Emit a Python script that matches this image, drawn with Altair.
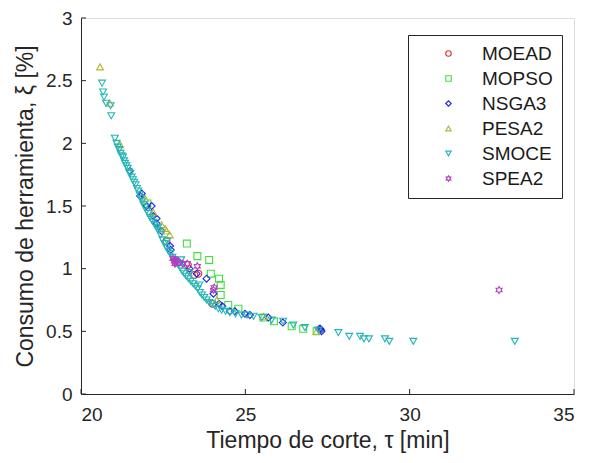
import altair as alt
import pandas as pd

# ---------------- data ----------------
moead_x = [22.60, 22.92, 23.25, 23.45, 23.57, 24.00]
moead_y = [1.22, 1.05, 1.03, 0.95, 0.96, 0.72]

mopso_x = [22.02, 23.22, 23.54, 23.90, 23.95, 24.20, 24.25, 24.25, 24.48, 24.79,
           25.55, 25.87, 26.41, 26.76, 27.17]
mopso_y = [1.52, 1.20, 1.10, 1.07, 0.96, 0.92, 0.87, 0.79, 0.71, 0.68,
           0.61, 0.58, 0.54, 0.52, 0.50]

nsga3_x = [21.49, 21.80, 21.85, 22.00, 22.15, 22.20, 22.30, 22.30, 22.45, 22.71,
           22.73, 23.00, 23.30, 23.52, 23.82, 24.03, 24.20, 24.30, 24.53, 24.68,
           24.99, 25.14, 25.70, 26.14, 27.25, 27.28, 27.30, 27.32]
nsga3_y = [1.78, 1.58, 1.60, 1.50, 1.50, 1.42, 1.40, 1.36, 1.30, 1.18,
           1.15, 1.05, 1.00, 0.96, 0.92, 0.80, 0.72, 0.70, 0.66, 0.66,
           0.64, 0.63, 0.61, 0.57, 0.52, 0.52, 0.51, 0.50]

pesa2_x = [20.58, 20.88, 21.19, 21.95, 22.20, 22.45, 22.56, 22.60, 22.70, 24.13,
           25.55, 27.17]
pesa2_y = [2.61, 2.32, 1.99, 1.56, 1.45, 1.35, 1.32, 1.30, 1.27, 0.75,
           0.62, 0.50]

smoce_x = [20.64, 20.67, 20.70, 20.76, 20.90, 20.92,
           21.03, 21.08, 21.12, 21.16, 21.20, 21.24, 21.28, 21.31, 21.34, 21.38,
           21.42, 21.46, 21.50, 21.54, 21.58, 21.62, 21.66, 21.70, 21.74, 21.78,
           21.82, 21.86, 21.90, 21.95, 22.00, 22.05, 22.10, 22.15, 22.20, 22.25,
           22.30, 22.36, 22.42, 22.48, 22.54, 22.60, 22.66, 22.72, 22.78, 22.84,
           22.90, 22.96, 23.02, 23.08, 23.14, 23.20, 23.27, 23.34, 23.41, 23.48,
           23.55, 23.62, 23.68, 23.75, 23.82, 23.90, 23.98, 24.08, 24.18, 24.28,
           24.40, 24.53, 24.70, 24.88, 25.05, 25.25, 25.50, 25.80, 26.15, 26.46,
           26.81, 27.22, 27.83, 28.16, 28.49, 28.61, 28.76, 29.25, 29.38, 30.11,
           33.20, 22.35, 22.62, 23.05, 23.30, 23.60]
smoce_y = [2.48, 2.41, 2.37, 2.32, 2.30, 2.22,
           2.04, 2.00, 1.97, 1.95, 1.92, 1.90, 1.89, 1.86, 1.84, 1.82,
           1.80, 1.77, 1.76, 1.73, 1.71, 1.69, 1.67, 1.64, 1.62, 1.59,
           1.56, 1.54, 1.51, 1.49, 1.46, 1.44, 1.41, 1.39, 1.37, 1.35,
           1.33, 1.30, 1.27, 1.23, 1.20, 1.17, 1.14, 1.12, 1.09, 1.07,
           1.05, 1.03, 1.01, 0.98, 0.96, 0.94, 0.92, 0.90, 0.88, 0.86,
           0.84, 0.81, 0.79, 0.77, 0.75, 0.73, 0.72, 0.70, 0.68, 0.67,
           0.66, 0.65, 0.64, 0.63, 0.63, 0.62, 0.61, 0.59, 0.58, 0.55,
           0.53, 0.51, 0.49, 0.46, 0.46, 0.44, 0.44, 0.44, 0.42, 0.42,
           0.42, 1.33, 1.22, 1.07, 0.97, 0.87]

spea2_x = [22.80, 22.84, 22.88, 22.86, 22.90, 23.10, 23.23, 23.54, 24.03, 24.05, 32.72]
spea2_y = [1.08, 1.06, 1.07, 1.04, 1.06, 1.04, 1.04, 1.02, 0.83, 0.85, 0.83]

series_names = ["MOEAD", "MOPSO", "NSGA3", "PESA2", "SMOCE", "SPEA2"]
series_x = [moead_x, mopso_x, nsga3_x, pesa2_x, smoce_x, spea2_x]
series_y = [moead_y, mopso_y, nsga3_y, pesa2_y, smoce_y, spea2_y]

x_ticks = [20, 25, 30, 35]
y_ticks = [0, 0.5, 1, 1.5, 2, 2.5, 3]

# ---------------- build table ----------------
rows = []
for name, xs, ys in zip(series_names, series_x, series_y):
    for a, b in zip(xs, ys):
        rows.append({"alg": name, "tau": a, "xi": b, "order": len(rows)})
df = pd.DataFrame(rows)

hexagram = ("M0,-1L0.289,-0.5L0.866,-0.5L0.577,0L0.866,0.5L0.289,0.5L0,1"
            "L-0.289,0.5L-0.866,0.5L-0.577,0L-0.866,-0.5L-0.289,-0.5Z")

colors = ["#e0302f", "#3ee03e", "#2424e0", "#b5b535", "#25b5b5", "#b53cc0"]
shapes = ["circle", "square", "diamond", "triangle-up", "triangle-down", hexagram]

W, H = 493, 376
FONT = "Liberation Sans"
AX = "#262626"

xscale = alt.Scale(domain=[20, 35], nice=False, zero=False)
yscale = alt.Scale(domain=[0, 3], nice=False, zero=False)

points = alt.Chart(df).mark_point(filled=False, strokeWidth=1.1, size=48, opacity=1).encode(
    x=alt.X("tau:Q", scale=xscale,
            axis=alt.Axis(values=x_ticks, format="~g", title="Tiempo de corte, τ [min]", grid=False,
                          ticks=False, tickSize=0, labelPadding=11, titlePadding=5,
                          domainColor=AX, labelColor=AX, titleColor=AX,
                          labelFont=FONT, titleFont=FONT, labelFontSize=19,
                          titleFontSize=23, titleFontWeight="normal")),
    y=alt.Y("xi:Q", scale=yscale,
            axis=alt.Axis(values=y_ticks, format="~g", title="Consumo de herramienta, ξ [%]", grid=False,
                          ticks=False, tickSize=0, labelPadding=9, titlePadding=8,
                          domainColor=AX, labelColor=AX, titleColor=AX,
                          labelFont=FONT, titleFont=FONT, labelFontSize=19,
                          titleFontSize=23, titleFontWeight="normal")),
    color=alt.Color("alg:N", scale=alt.Scale(domain=series_names, range=colors),
                    legend=alt.Legend(title=None, orient="none", legendX=327, legendY=17,
                                      strokeColor=AX, fillColor="white", padding=9,
                                      labelFont=FONT, labelFontSize=19, labelColor="#1a1a1a",
                                      symbolSize=30, symbolStrokeWidth=1.1,
                                      rowPadding=5, symbolOffset=22, labelOffset=24,
                                      labelLimit=200, cornerRadius=0)),
    shape=alt.Shape("alg:N", scale=alt.Scale(domain=series_names, range=shapes), legend=None),
    order=alt.Order("order:Q"),
)

xt = pd.DataFrame({"t": x_ticks})
yt = pd.DataFrame({"t": y_ticks})
xtick_marks = alt.Chart(xt).mark_rule(color=AX, strokeWidth=1).encode(
    x=alt.X("t:Q", scale=xscale), y=alt.value(H), y2=alt.value(H - 5))
ytick_marks = alt.Chart(yt).mark_rule(color=AX, strokeWidth=1).encode(
    y=alt.Y("t:Q", scale=yscale), x=alt.value(0), x2=alt.value(5))

chart = alt.layer(points, xtick_marks, ytick_marks).properties(
    width=W, height=H,
    autosize=alt.AutoSizeParams(type="none"),
    padding={"left": 73, "top": 10, "right": 11, "bottom": 66},
).configure_view(stroke=None).configure(background="white")

chart.save("out.html", embed_options={"renderer": "svg", "actions": False})
